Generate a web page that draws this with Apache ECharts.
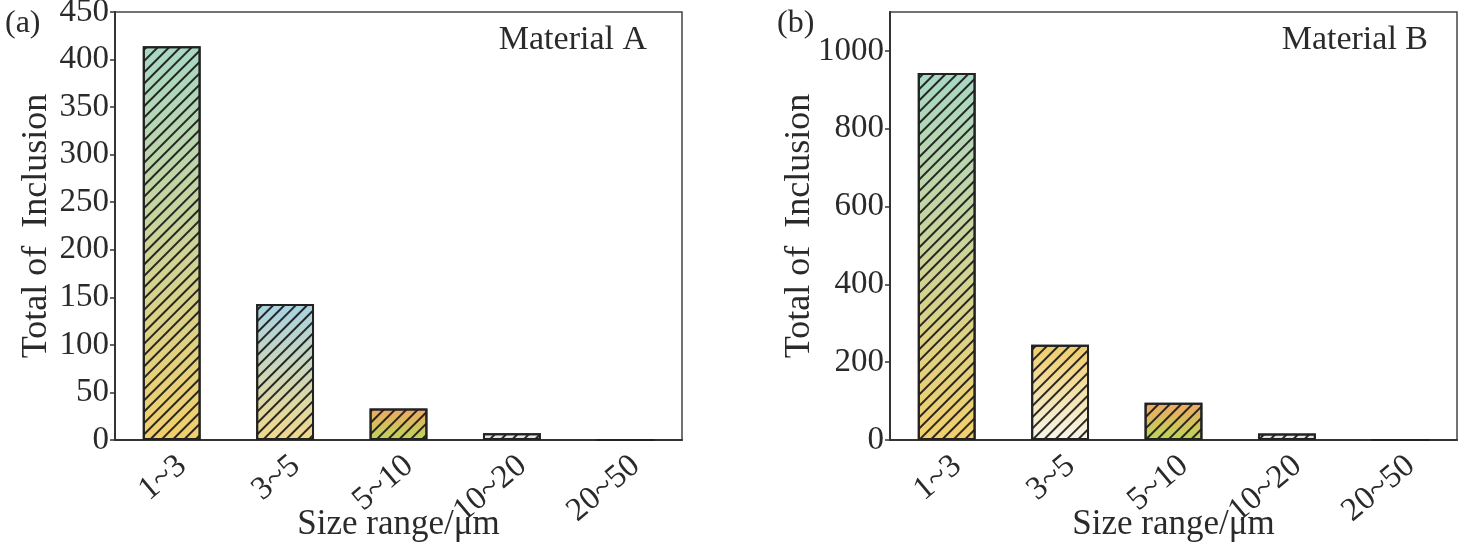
<!DOCTYPE html>
<html><head><meta charset="utf-8">
<script src="https://cdn.jsdelivr.net/npm/echarts@6/dist/echarts.min.js"></script>
<style>html,body{margin:0;padding:0;background:#fff}#c{width:1459px;height:546px}</style>
</head><body><div id="c"></div>
<script>
const categories = ['1~3', '3~5', '5~10', '10~20', '20~50'];
const valuesA = [414, 143, 33, 7, 0];
const valuesB = [943, 245, 96, 17, 0];
const yTicksA = [0, 50, 100, 150, 200, 250, 300, 350, 400, 450];
const yTicksB = [0, 200, 400, 600, 800, 1000];
const yTitle = 'Total of  Inclusion';
const xTitle = 'Size range/\u03bcm';

const gradA = [['#a8d8c4', '#f2cf6c'], ['#a8d3e3', '#f1d98c'], ['#f0a862', '#bcd65a'], ['#f0f0f0', '#dddddd'], ['#eeeeee', '#dddddd']];
const gradB = [['#a8d8c4', '#f2cf6c'], ['#f0cd6a', '#f8f5ea'], ['#f0a862', '#bcd65a'], ['#f0f0f0', '#dddddd'], ['#eeeeee', '#dddddd']];

const FONT = "'Liberation Serif', 'Times New Roman', serif";
const TXT = '#2a2a2a';
const hatch = {
  symbol: 'rect', symbolSize: 1,
  dashArrayX: [1, 0], dashArrayY: [1.6, 6],
  rotation: -Math.PI / 4,
  color: 'rgba(20,20,20,0.9)'
};

function barData(vals, grad) {
  return vals.map((v, i) => ({
    value: v,
    itemStyle: {
      color: { type: 'linear', x: 0, y: 0, x2: 0, y2: 1,
        colorStops: [{ offset: 0, color: grad[i][0] }, { offset: 1, color: grad[i][1] }] }
    }
  }));
}

function xAxisOpt(gridIndex) {
  return {
    type: 'category', gridIndex, data: categories,
    axisLine: { show: true, lineStyle: { color: '#333', width: 2 } },
    axisTick: { show: false },
    axisLabel: { rotate: 40, margin: 9, verticalAlign: 'top', fontFamily: FONT, fontSize: 33, color: TXT, interval: 0 },
    name: xTitle, nameLocation: 'middle', nameGap: 67, nameMoveOverlap: false,
    nameTextStyle: { fontFamily: FONT, fontSize: 35, color: TXT }
  };
}
function yAxisOpt(gridIndex, max, ticks, gap) {
  return {
    type: 'value', gridIndex, min: 0, max: max,
    axisLine: { show: true, lineStyle: { color: '#333', width: 2 } },
    axisTick: { show: true, inside: false, length: 5, customValues: ticks, lineStyle: { color: '#333', width: 1.5 } },
    axisLabel: { customValues: ticks, margin: 6, fontFamily: FONT, fontSize: 33, color: TXT,
      formatter: function (v) { return String(v); } },
    splitLine: { show: false },
    name: yTitle, nameLocation: 'middle', nameGap: gap, nameRotate: 90, nameMoveOverlap: false,
    nameTextStyle: { fontFamily: FONT, fontSize: 36, color: TXT }
  };
}

const chart = echarts.init(document.getElementById('c'), null, { renderer: 'canvas' });
chart.setOption({
  backgroundColor: '#fff',
  animation: false,
  title: [
    { text: '(a)', left: 0, top: 3, textStyle: { fontFamily: FONT, fontSize: 32, fontWeight: 'normal', color: TXT } },
    { text: 'Material A', right: 1459 - 652, top: 18, textStyle: { fontFamily: FONT, fontSize: 34, fontWeight: 'normal', color: TXT } },
    { text: '(b)', left: 772, top: 3, textStyle: { fontFamily: FONT, fontSize: 32, fontWeight: 'normal', color: TXT } },
    { text: 'Material B', right: 1459 - 1433, top: 18, textStyle: { fontFamily: FONT, fontSize: 34, fontWeight: 'normal', color: TXT } }
  ],
  grid: [
    { left: 115, top: 12, width: 567, height: 428, outerBoundsMode: 'none', containLabel: false, show: true, borderColor: '#444', borderWidth: 1.5, backgroundColor: 'transparent' },
    { left: 890, top: 12, width: 567, height: 428, outerBoundsMode: 'none', containLabel: false, show: true, borderColor: '#444', borderWidth: 1.5, backgroundColor: 'transparent' }
  ],
  xAxis: [xAxisOpt(0), xAxisOpt(1)],
  yAxis: [yAxisOpt(0, 450, yTicksA, 60), yAxisOpt(1, 1100, yTicksB, 72)],
  series: [
    { type: 'bar', xAxisIndex: 0, yAxisIndex: 0, barWidth: '51%', data: barData(valuesA, gradA),
      itemStyle: { borderColor: '#222', borderWidth: 2, decal: hatch } },
    { type: 'bar', xAxisIndex: 1, yAxisIndex: 1, barWidth: '51%', data: barData(valuesB, gradB),
      itemStyle: { borderColor: '#222', borderWidth: 2, decal: hatch } }
  ]
});
</script></body></html>
